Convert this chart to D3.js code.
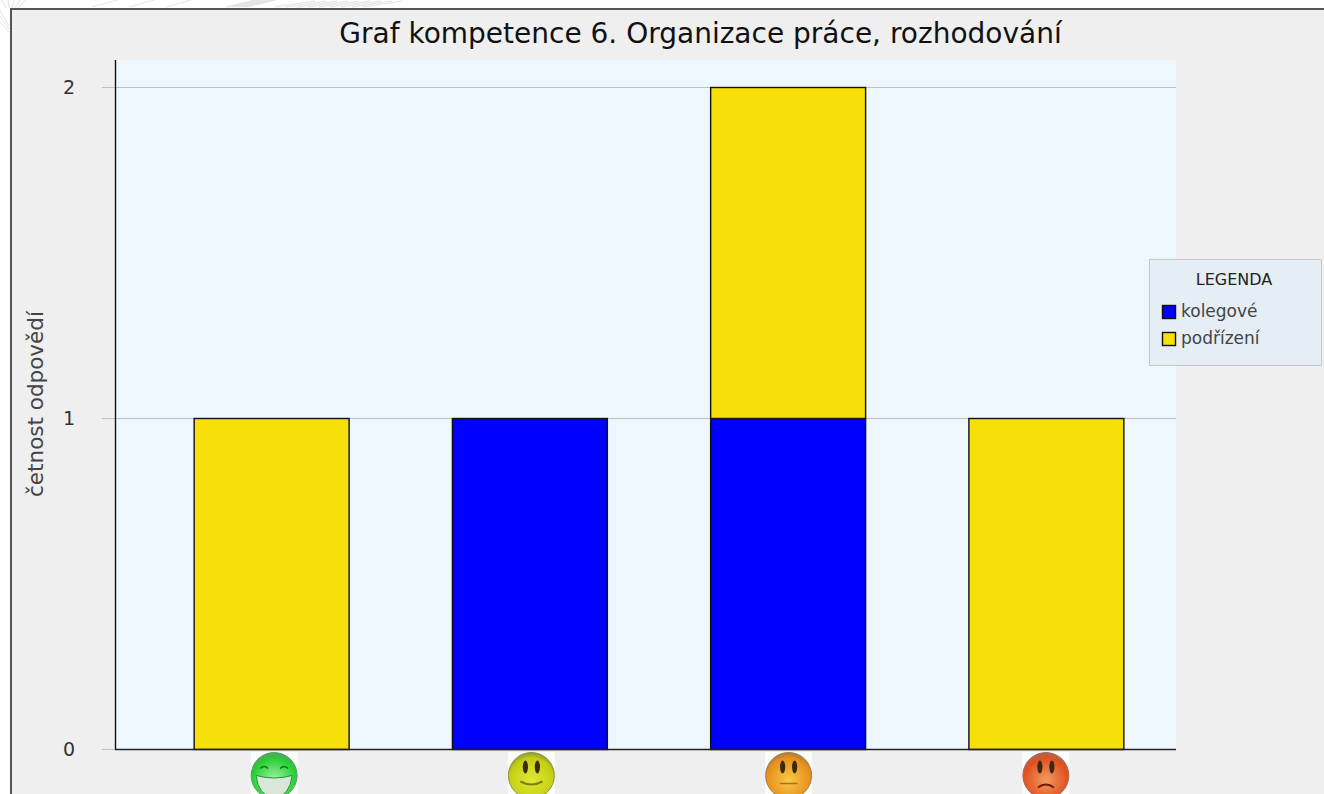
<!DOCTYPE html>
<html>
<head>
<meta charset="utf-8">
<script src="https://cdn.jsdelivr.net/npm/d3@7"></script>
<style>
  html, body { margin: 0; padding: 0; background: #fff; overflow: hidden; }
  text { font-family: "DejaVu Sans", sans-serif; }
</style>
</head>
<body>
<div id="vis"></div>
<script>
// frame and plot area
const FRAME_WIDTH = 1324;
const FRAME_HEIGHT = 794;
const PLOT = {left: 115, right: 1176, top: 60, bottom: 749};

// data
const CATEGORIES = ["velmi dobře", "dobře", "průměrně", "špatně"];
const KOLEGOVE = [0, 1, 1, 0];
const PODRIZENI = [1, 0, 1, 1];
const SERIES_NAMES = ["kolegové", "podřízení"];
const SERIES_COLORS = ["#0000ff", "#f7df09"];
const Y_TICKS = [0, 1, 2];
const FACE_COLORS = [
  ["#a6f2a6", "#24cf33", "#5c9c63"],
  ["#dfe838", "#c3cf12", "#8d9440"],
  ["#f8c848", "#e8901c", "#a87a48"],
  ["#f49a60", "#e2501f", "#a8695a"]
];
const FACE_OFFSETS = [3, 2, 1, 0];

const svg = d3.select("#vis").append("svg")
    .attr("width", FRAME_WIDTH)
    .attr("height", FRAME_HEIGHT)
    .style("display", "block");

// faint page texture behind the frame
const texture = svg.append("g")
    .attr("stroke", "#e2e2e2")
    .attr("stroke-width", 1)
    .attr("fill", "none");
d3.range(0, 5).forEach((i) => {
  texture.append("path").attr("d", "M" + (2 + i * 6) + ",0L" + (6 + i * 3) + ",8");
});
d3.range(0, 3).forEach((i) => {
  texture.append("path").attr("d", "M0," + (10 + i * 6) + "L9," + (26 + i * 3));
});
d3.range(0, 3).forEach((i) => {
  texture.append("path").attr("d", "M" + (92 + i * 37) + ",7L" + (117 + i * 37) + ",0");
});
d3.range(0, 8).forEach((i) => {
  texture.append("path").attr("d", "M" + (226 + i * 3) + ",7L" + (255 + i * 3) + ",0");
});
d3.range(0, 9).forEach((i) => {
  texture.append("path").attr("d", "M" + (275 + i * 11) + ",7Q" + (295 + i * 11) + ",4 " + (315 + i * 11) + ",1");
});

// chart panel with its dark border
svg.append("rect")
    .attr("x", 11).attr("y", 9)
    .attr("width", FRAME_WIDTH).attr("height", FRAME_HEIGHT)
    .attr("fill", "#efefef")
    .attr("stroke", "#555")
    .attr("stroke-width", 2);

// plot background
svg.append("rect")
    .attr("x", PLOT.left).attr("y", PLOT.top)
    .attr("width", PLOT.right - PLOT.left)
    .attr("height", PLOT.bottom - PLOT.top)
    .attr("fill", "#eef6fe");

// scales
const X = d3.scaleBand()
    .domain(CATEGORIES)
    .range([142, 1175])
    .paddingInner(0.4)
    .paddingOuter(0.2);
const Y = d3.scaleLinear()
    .domain([0, 2])
    .range([749, 87]);

// gridlines and y axis
svg.append("g")
    .attr("transform", "translate(" + PLOT.left + ",0)")
    .call(d3.axisLeft(Y).tickValues(Y_TICKS).tickFormat(d3.format("d"))
        .tickSize(-(PLOT.right - PLOT.left)).tickPadding(40))
    .call((g) => g.select(".domain").remove())
    .call((g) => g.selectAll(".tick line").attr("stroke", "#bdbfc1"))
    .call((g) => g.selectAll(".tick text")
        .attr("font-size", "19px").attr("fill", "#333")
        .attr("font-family", "DejaVu Sans"));
svg.append("g").selectAll("line")
    .data(Y_TICKS)
    .enter()
    .append("line")
        .attr("x1", 102).attr("x2", PLOT.left)
        .attr("y1", (d) => Y(d) + 0.5).attr("y2", (d) => Y(d) + 0.5)
        .attr("stroke", "#bdbfc1");

// stacked bars
const rows = CATEGORIES.map((c, i) => ({cat: c, kolegove: KOLEGOVE[i], podrizeni: PODRIZENI[i]}));
const STACK = d3.stack().keys(["kolegove", "podrizeni"])(rows);
svg.selectAll("g.layer")
    .data(STACK)
    .enter()
    .append("g")
        .attr("class", "layer")
        .attr("fill", (d, i) => SERIES_COLORS[i])
    .selectAll("rect")
    .data((d) => d.filter((p) => p[1] > p[0]))
    .enter()
    .append("rect")
        .attr("x", (d) => X(d.data.cat) + 0.5)
        .attr("y", (d) => Y(d[1]) + 0.5)
        .attr("width", X.bandwidth())
        .attr("height", (d) => Y(d[0]) - Y(d[1]))
        .attr("stroke", "#111")
        .attr("stroke-width", 1.4);

// axis lines
svg.append("line")
    .attr("x1", PLOT.left + 0.5).attr("x2", PLOT.left + 0.5)
    .attr("y1", PLOT.top).attr("y2", PLOT.bottom)
    .attr("stroke", "#111")
    .attr("stroke-width", 1.4);
svg.append("line")
    .attr("x1", PLOT.left).attr("x2", PLOT.right)
    .attr("y1", PLOT.bottom + 0.5).attr("y2", PLOT.bottom + 0.5)
    .attr("stroke", "#222")
    .attr("stroke-width", 1.4);

// title and y label
svg.append("text")
    .attr("x", 700.5).attr("y", 43)
    .attr("text-anchor", "middle")
    .attr("font-size", "28px")
    .attr("fill", "#111")
    .text("Graf kompetence 6. Organizace práce, rozhodování");
svg.append("text")
    .attr("transform", "translate(43,404) rotate(-90)")
    .attr("text-anchor", "middle")
    .attr("font-size", "21.5px")
    .attr("fill", "#444")
    .text("četnost odpovědí");

// smiley icons under the categories
const defs = svg.append("defs");
FACE_COLORS.forEach((c, i) => {
  const grad = defs.append("radialGradient")
      .attr("id", "face" + i)
      .attr("cx", "50%").attr("cy", "60%").attr("r", "60%");
  grad.append("stop").attr("offset", "0%").attr("stop-color", c[0]);
  grad.append("stop").attr("offset", "80%").attr("stop-color", c[1]);
  grad.append("stop").attr("offset", "100%").attr("stop-color", c[2]);
});

const FACE_Y = 775.5;
const faceX = (c, i) => X(c) + X.bandwidth() / 2 + FACE_OFFSETS[i];

const faces = svg.selectAll("g.face")
    .data(CATEGORIES)
    .enter()
    .append("g")
        .attr("class", "face")
        .attr("transform", (d, i) => "translate(" + faceX(d, i) + "," + FACE_Y + ")");
faces.append("rect")
    .attr("x", -23.5).attr("y", -23.5)
    .attr("width", 47).attr("height", 47)
    .attr("fill", "#fbfdf8");
faces.append("circle")
    .attr("r", 23)
    .attr("fill", (d, i) => "url(#face" + i + ")")
    .attr("stroke", (d, i) => FACE_COLORS[i][2])
    .attr("stroke-width", 1);

const big = d3.select(faces.nodes()[0]);
big.append("path")
    .attr("d", "M-14,-7Q-10,-11 -6,-7M6,-7Q10,-11 14,-7")
    .attr("fill", "none").attr("stroke", "#0f7a1e").attr("stroke-width", 1.6);
big.append("path")
    .attr("d", "M-18,0Q0,5 18,0Q16,20 0,23Q-16,20 -18,0Z")
    .attr("fill", "#d9e6d9").attr("stroke", "#1c9a2a").attr("stroke-width", 1);

const eyes = [1, 2, 3].map((i) => d3.select(faces.nodes()[i]));
eyes.forEach((f) => {
  f.selectAll("ellipse")
      .data([-6, 6])
      .enter()
      .append("ellipse")
          .attr("cx", (d) => d)
          .attr("cy", -8.5)
          .attr("rx", 2.6).attr("ry", 6.5)
          .attr("fill", "#3b2a10");
});
eyes[0].append("path")
    .attr("d", "M-11,6Q0,12 11,6")
    .attr("fill", "none").attr("stroke", "#7a820a").attr("stroke-width", 2);
eyes[1].append("path")
    .attr("d", "M-9,8L9,8")
    .attr("fill", "none").attr("stroke", "#b0701a").attr("stroke-width", 1.5);
eyes[2].append("path")
    .attr("d", "M-8,12Q0,6 8,12")
    .attr("fill", "none").attr("stroke", "#6e1c08").attr("stroke-width", 2);

// legend box
const legend = svg.append("g").attr("transform", "translate(1149,259)");
legend.append("rect")
    .attr("x", 0.5).attr("y", 0.5)
    .attr("width", 172).attr("height", 106)
    .attr("fill", "#e5edf5")
    .attr("stroke", "#c4c8cc");
legend.append("text")
    .attr("x", 85).attr("y", 26)
    .attr("text-anchor", "middle")
    .attr("font-size", "16px")
    .attr("fill", "#222")
    .text("LEGENDA");
legend.selectAll("rect.key")
    .data(SERIES_NAMES)
    .enter()
    .append("rect")
        .attr("class", "key")
        .attr("x", 13.5)
        .attr("y", (d, i) => 46.5 + i * 27)
        .attr("width", 13).attr("height", 13)
        .attr("fill", (d, i) => SERIES_COLORS[i])
        .attr("stroke", "#111")
        .attr("stroke-width", 1.4);
legend.selectAll("text.key")
    .data(SERIES_NAMES)
    .enter()
    .append("text")
        .attr("class", "key")
        .attr("x", 32)
        .attr("y", (d, i) => 58 + i * 27)
        .attr("font-size", "17px")
        .attr("fill", "#444")
        .text((d) => d);
</script>
</body>
</html>
